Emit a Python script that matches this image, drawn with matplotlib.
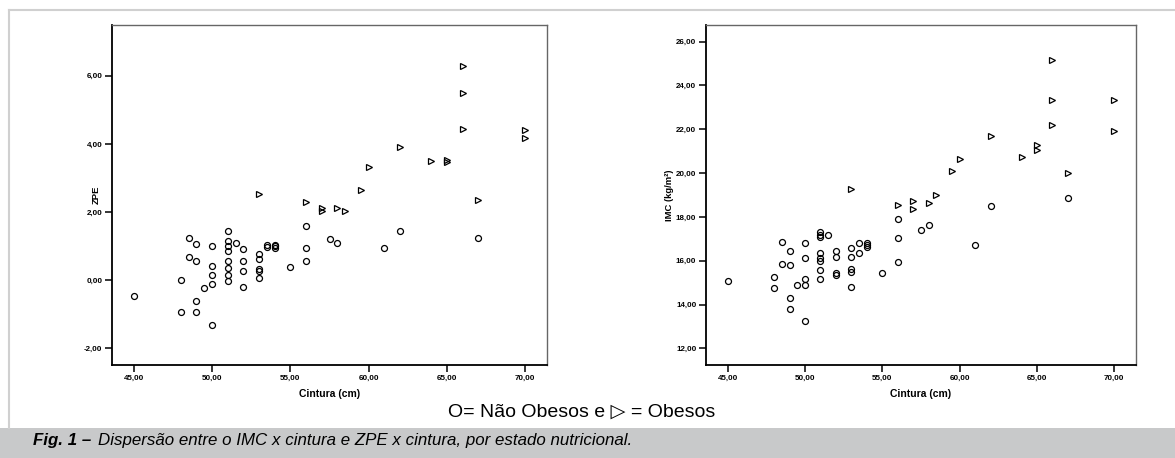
# -*- coding:utf-8 -*-
import matplotlib
matplotlib.use("Agg")
import matplotlib.pyplot as plt
from matplotlib.patches import Rectangle
from matplotlib.lines import Line2D

plt.rcParams['font.family'] = ['Liberation Sans', 'DejaVu Sans']

# nao obesos (circulos) - cintura, ZPE, IMC
cintura_nao = [45, 48, 48, 48.5, 48.5, 49, 49, 49, 49, 49.5,
               50, 50, 50, 50, 50, 51, 51, 51, 51, 51, 51, 51, 51, 51.5,
               52, 52, 52, 52, 53, 53, 53, 53, 53, 53.5, 53.5, 54, 54, 54,
               55, 56, 56, 56, 57.5, 58, 61, 62, 67]
zpe_nao = [-0.47, 0.01, -0.92, 1.23, 0.68, 1.05, 0.56, -0.61, -0.93, -0.24,
           1.0, 0.42, 0.16, -0.11, -1.31, 1.44, 1.15, 1.0, 0.86, 0.56, 0.37, 0.16, -0.01, 1.10,
           0.91, 0.57, 0.28, -0.2, 0.77, 0.62, 0.33, 0.28, 0.05, 1.04, 0.96, 1.04, 1.0, 0.94,
           0.38, 1.59, 0.95, 0.57, 1.22, 1.10, 0.94, 1.45, 1.25]
imc_nao = [15.09, 15.27, 14.75, 16.87, 15.85, 16.46, 15.79, 14.30, 13.79, 14.91,
           16.80, 16.14, 15.15, 14.91, 13.23, 17.30, 17.18, 17.07, 16.37, 16.11, 15.99, 15.58, 15.16, 17.16,
           16.43, 16.17, 15.42, 15.35, 16.58, 16.17, 15.61, 15.50, 14.81, 16.83, 16.37, 16.83, 16.72, 16.64,
           15.42, 17.91, 17.02, 15.94, 17.39, 17.65, 16.70, 18.50, 18.88]

# obesos (triangulos)
cintura_ob = [53, 56, 57, 57, 58, 58.5, 59.5, 60, 62, 64, 65, 65, 66, 66, 66, 67, 70, 70]
zpe_ob = [2.53, 2.30, 2.13, 2.02, 2.11, 2.02, 2.65, 3.32, 3.91, 3.49, 3.54, 3.46,
          6.30, 5.49, 4.45, 2.35, 4.42, 4.17]
imc_ob = [19.28, 18.53, 18.72, 18.35, 18.62, 18.98, 20.10, 20.63, 21.71, 20.75, 21.28, 21.05,
          25.17, 23.34, 22.19, 20.0, 23.32, 21.93]

x_ticks = [45, 50, 55, 60, 65, 70]
zpe_ticks = [-2, 0, 2, 4, 6]
imc_ticks = [12, 14, 16, 18, 20, 22, 24, 26]

W, H = 1175, 458


def fmt(v):
    return f"{v:.2f}".replace(".", ",")


def draw_panel(ax, y_nao, y_ob, yticks, ylim, ylabel, ylabel_x):
    ax.plot(cintura_nao, y_nao, linestyle='none', marker='o', markersize=4.3,
            markerfacecolor='none', markeredgecolor='black', markeredgewidth=0.9)
    ax.plot(cintura_ob, y_ob, linestyle='none', marker='>', markersize=4.3,
            markerfacecolor='none', markeredgecolor='black', markeredgewidth=0.9)
    ax.set_xlim(43.6, 71.4)
    ax.set_ylim(*ylim)
    ax.set_xticks(x_ticks)
    ax.set_xticklabels([fmt(v) for v in x_ticks])
    ax.set_yticks(yticks)
    ax.set_yticklabels([fmt(v) for v in yticks])
    ax.tick_params(direction='out', length=5, width=1.1, labelsize=5.8, pad=2)
    for lab in ax.get_xticklabels() + ax.get_yticklabels():
        lab.set_fontweight('bold')
    ax.spines['left'].set_linewidth(1.3)
    ax.spines['bottom'].set_linewidth(1.3)
    for s in ['top', 'right']:
        ax.spines[s].set_color('#666666')
        ax.spines[s].set_linewidth(1.0)
    ax.set_xlabel("Cintura (cm)", fontsize=7.5, fontweight='bold', labelpad=5)
    ax.set_ylabel(ylabel, fontsize=6.8, fontweight='bold')
    ax.yaxis.set_label_coords(ylabel_x, 0.5)


fig = plt.figure(figsize=(W / 100, H / 100), dpi=100)

# moldura cinza e faixa da legenda
fig.add_artist(Line2D([9 / W, 1], [1 - 10 / H, 1 - 10 / H], color='#d0d0d0', lw=1.5))
fig.add_artist(Line2D([9 / W, 9 / W], [1 - 10 / H, 1 - 428 / H], color='#d0d0d0', lw=1.5))
fig.add_artist(Rectangle((0, 0), 1, 30 / H, facecolor='#c8c9ca', edgecolor='none'))

ax1 = fig.add_axes([112 / W, 1 - 365 / H, 435 / W, 340 / H])
draw_panel(ax1, zpe_nao, zpe_ob, zpe_ticks, (-2.49, 7.49), "ZPE", -0.025)

ax2 = fig.add_axes([706 / W, 1 - 365 / H, 430 / W, 340 / H])
draw_panel(ax2, imc_nao, imc_ob, imc_ticks, (11.24, 26.76), "IMC (kg/m²)", -0.075)

fig.text(582 / W, 1 - 412 / H, "O= Não Obesos e \u25b7 = Obesos", ha='center', va='center',
         fontsize=14)

# legenda da figura: parte em negrito e depois o resto
renderer = fig.canvas.get_renderer()
t_bold = fig.text(33 / W, 1 - 440 / H, "Fig. 1 \u2013 ", ha='left', va='center', fontsize=12.2,
                  style='italic', fontweight='bold')
bb = t_bold.get_window_extent(renderer=renderer)
fig.text(bb.x1 / W + 2 / W, 1 - 440 / H,
         "Dispersão entre o IMC x cintura e ZPE x cintura, por estado nutricional.",
         ha='left', va='center', fontsize=12.2, style='italic')

fig.savefig("out.png", dpi=100)
